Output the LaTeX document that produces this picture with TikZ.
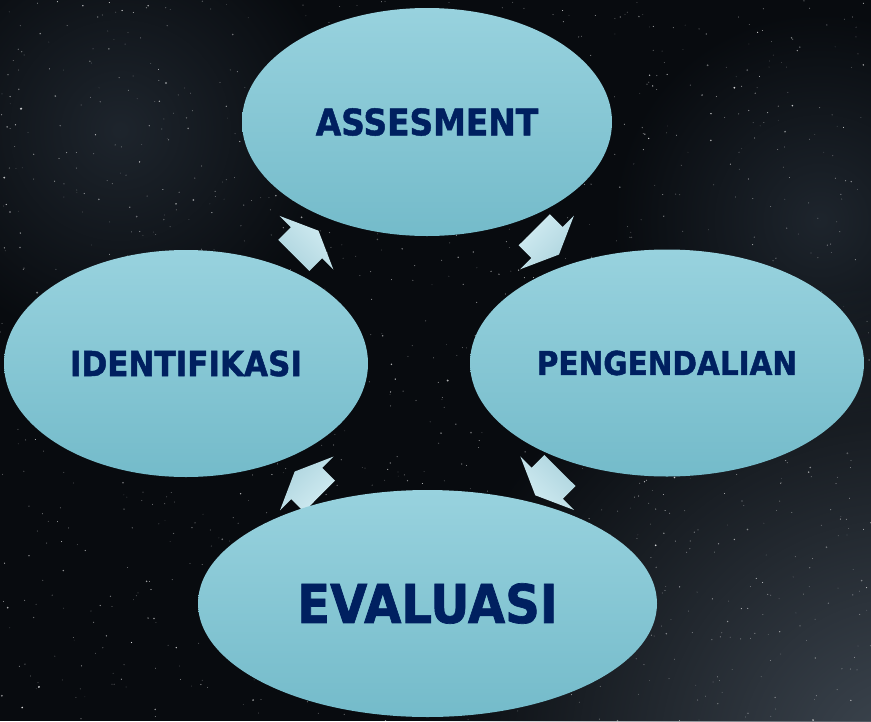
\documentclass[tikz,border=0pt]{standalone}
\usepackage{fontspec}
\newfontfamily\labelfont{DejaVu Sans}[FakeStretch=0.9,BoldFeatures={FakeBold=1.3}]
\usetikzlibrary{shapes.geometric,calc,fadings}

\pgfdeclarelayer{sky}
\pgfdeclarelayer{arrows}
\pgfsetlayers{sky,arrows,main}

\definecolor{skybase}{HTML}{080B0F}
\definecolor{skyglow}{HTML}{3E4751}
\definecolor{skyhaze}{HTML}{1E252D}
\definecolor{ovaltop}{HTML}{98D2DE}
\definecolor{ovalbottom}{HTML}{74BBCA}
\definecolor{labelblue}{HTML}{002060}
\definecolor{arrowtop}{HTML}{D2ECF2}
\definecolor{arrowbottom}{HTML}{ADD4DE}

\tikzfading[name=softglow, inner color=transparent!0, outer color=transparent!100]

\tikzset{
  stage/.style={ellipse, inner sep=0pt, top color=ovaltop, bottom color=ovalbottom,
    text=labelblue, font=\labelfont\bfseries},
  glow/.style={fill=#1, path fading=softglow},
  % short, wide block arrow; #1 is its heading, used to keep the shading vertical
  blockarrow/.pic={
    \fill[top color=arrowtop, bottom color=arrowbottom, shading angle=-#1]
      (-18,-22) -- (0,-22) -- (0,-38) -- (17,0) -- (0,38) -- (0,22) -- (-18,22) -- cycle;
  }
}

% block arrow halfway between two stages, pointing from the first to the second
\newcommand{\cyclearrow}[2]{%
  \path let \p1=($(#2)-(#1)$), \n1={atan2(\y1,\x1)} in
    ($(#1)!0.5!(#2)$) pic[rotate=\n1] {blockarrow=\n1};
}

\begin{document}
\begin{tikzpicture}[x=1pt,y=-1pt]
\useasboundingbox (0,0) rectangle (871,721);

% night sky
\begin{pgfonlayer}{sky}
  \fill[skybase] (0,0) rectangle (871,721);
  \begin{scope}
    \clip (0,0) rectangle (871,721);
    \fill[glow=skyhaze] (120,130) circle (220pt);
    \fill[glow=skyhaze] (820,220) circle (210pt);
    \fill[glow=skyglow] (900,760) circle (480pt);
    \pgfmathsetseed{2718}
    \foreach \i in {1,...,1400}{
      \pgfmathsetmacro{\sx}{871*rnd}
      \pgfmathsetmacro{\sy}{721*rnd}
      \pgfmathsetmacro{\sr}{0.4+1.1*rnd*rnd*rnd}
      \pgfmathsetmacro{\so}{0.25+0.6*rnd}
      \fill[white, opacity=\so] (\sx,\sy) circle (\sr pt);
    }
  \end{scope}
\end{pgfonlayer}

% stages of the cycle
\node[stage, minimum width=370, minimum height=228] (asses) at (427,122)
  {\fontsize{36.5}{40}\selectfont ASSESMENT};
\node[stage, minimum width=394, minimum height=227] (peng) at (667,363)
  {\fontsize{32.8}{36}\selectfont PENGENDALIAN};
\node[stage, minimum width=459, minimum height=227] (eval) at (427.5,603.5)
  {\fontsize{53.5}{58}\selectfont EVALUASI};
\node[stage, minimum width=364, minimum height=227] (ident) at (186,363.5)
  {\fontsize{34.5}{38}\selectfont IDENTIFIKASI};

% arrows running clockwise between the stages
\begin{pgfonlayer}{arrows}
  \cyclearrow{ident}{asses}
  \cyclearrow{asses}{peng}
  \cyclearrow{peng}{eval}
  \cyclearrow{eval}{ident}
\end{pgfonlayer}
\end{tikzpicture}
\end{document}
